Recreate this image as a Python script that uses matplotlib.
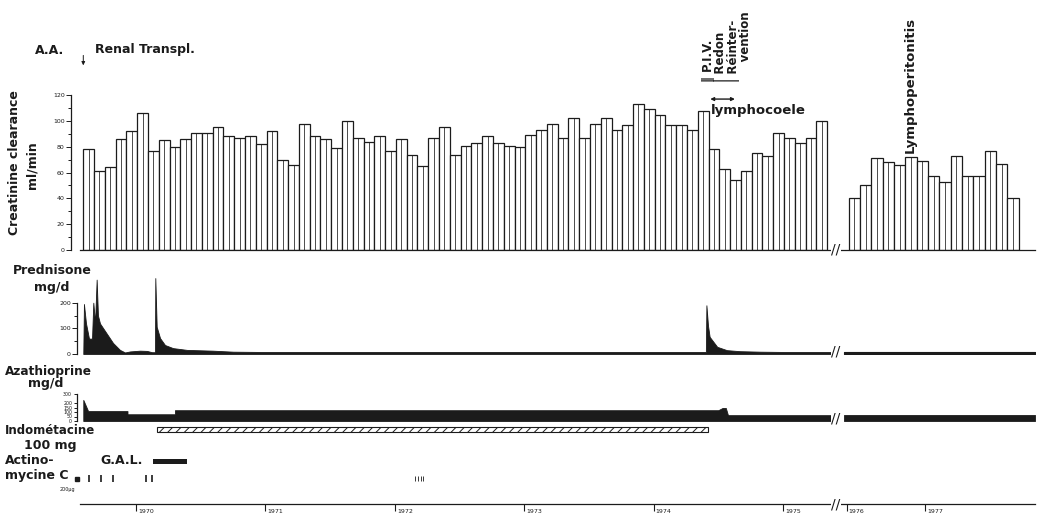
import numpy as np
import matplotlib.pyplot as plt
from matplotlib import transforms

plt.rcParams['font.family'] = ['DejaVu Sans']
plt.rcParams['hatch.linewidth'] = 0.7
INK = '#1b1b1b'

# x unit = one month, 0 = first bar (Aug 1969)
clearance_main = [78, 61, 64, 86, 92, 106, 77, 85, 80, 86, 91, 91, 95, 88, 87, 88, 82, 92, 70, 66,
                  98, 88, 86, 79, 100, 87, 84, 88, 77, 86, 74, 65, 87, 95, 74, 81, 83, 88, 83, 81,
                  80, 89, 93, 98, 87, 102, 87, 98, 102, 93, 97, 113, 109, 105, 97, 97, 93, 108, 78, 63,
                  54, 61, 75, 73, 91, 87, 83, 87, 100]
clearance_late = [40, 50, 71, 68, 66, 72, 69, 57, 53, 73, 57, 57, 77, 67, 40]
late_start = 71.0
late_step = 1.05

pred_x = [0.0, 0.06, 0.25, 0.53, 0.81, 0.93, 1.09, 1.24, 1.36, 1.55, 2.17, 2.76, 3.4, 3.87,
          4.33, 5.26, 5.91, 6.37, 6.65, 6.68, 6.81, 7.12, 7.58, 8.32, 9.62, 12.0, 13.9, 16.4,
          57.75, 57.8, 57.95, 58.1, 58.8, 59.7, 60.9, 62.8, 64.9, 69.5]
pred_v = [0, 195, 120, 60, 60, 200, 120, 290, 150, 119, 80, 43, 16, 6,
          10, 13, 12, 7, 7, 296, 106, 62, 35, 23, 16, 13, 9, 8,
          8, 190, 110, 67, 28, 15, 11, 9, 8, 8]
pred_late_x = [70.6, 88.3]
pred_late_v = [8, 8]

aza_x = [0.0, 0.0, 0.45, 4.1, 4.1, 8.5, 8.5, 58.9, 59.3, 59.6, 59.8, 69.5]
aza_v = [0, 235, 110, 110, 75, 75, 120, 120, 145, 145, 65, 65]
aza_late_x = [70.6, 88.3]
aza_late_v = [65, 65]

indometacine = (6.84, 57.95)
gal = (6.47, 9.62)
actino_c = [-0.58, 0.53, 1.64, 2.76, 5.81, 6.37]
actino_c_1972 = [30.8, 31.05, 31.3, 31.55]

year_ticks = [4.9, 16.9, 28.9, 40.9, 52.9, 64.9, 70.8, 78.1]
year_labels = ['1970', '1971', '1972', '1973', '1974', '1975', '1976', '1977']
break_x = 69.8
transpl_x = 0.0
lympho_span = (57.9, 60.7)

W, H = 1041, 518
XL, XR = -1.14, 88.28


def box(left, top, right, bottom):
    return [left / W, 1 - bottom / H, (right - left) / W, (bottom - top) / H]


def ftext(x, y, s, **kw):
    kw.setdefault('fontsize', 9)
    kw.setdefault('fontweight', 'bold')
    kw.setdefault('color', INK)
    fig.text(x / W, 1 - y / H, s, **kw)


fig = plt.figure(figsize=(W / 100, H / 100), dpi=100)
ax1 = fig.add_axes(box(71, 250 - 125 * 1.29, 1035, 250))
ax2 = fig.add_axes(box(71, 354 - 310 * 0.2565, 1035, 354))
ax3 = fig.add_axes(box(71, 421 - 330 * 0.09, 1035, 421))
ax4 = fig.add_axes(box(71, 424, 1035, 504))

for ax in (ax1, ax2, ax3, ax4):
    ax.set_xlim(XL, XR)
    ax.patch.set_visible(False)
    for s in ('top', 'right'):
        ax.spines[s].set_visible(False)
    for s in ('left', 'bottom'):
        ax.spines[s].set_linewidth(0.9)
        ax.spines[s].set_color(INK)
    ax.tick_params(which='both', direction='out', width=0.7, colors=INK, labelsize=4.5, pad=1)
    ax.tick_params(which='major', length=3.5)
    ax.tick_params(which='minor', length=2.5)

# creatinine clearance bars
ax1.set_ylim(0, 125)
x_main = np.arange(len(clearance_main))
ax1.bar(x_main, clearance_main, width=1, align='edge', fc='white', ec=INK, lw=0.9)
ax1.vlines(x_main + 0.5, 0, clearance_main, color=INK, lw=0.55)
x_late = late_start + late_step * np.arange(len(clearance_late))
ax1.bar(x_late, clearance_late, width=late_step, align='edge', fc='white', ec=INK, lw=0.9)
ax1.vlines(x_late + late_step / 2, 0, clearance_late, color=INK, lw=0.55)
ax1.spines['left'].set_bounds(0, 120)
ax1.spines['bottom'].set_bounds(-0.3, XR)
ax1.set_yticks(range(0, 121, 20))
ax1.set_yticks(range(10, 120, 20), minor=True)
ax1.set_xticks([])

# prednisone
ax2.set_ylim(0, 310)
ax2.fill_between(pred_x, 0, pred_v, color=INK, lw=0.6)
ax2.fill_between(pred_late_x, 0, pred_late_v, color=INK, lw=0.8)
ax2.spines['left'].set_position(('data', -0.58))
ax2.spines['left'].set_bounds(0, 200)
ax2.spines['bottom'].set_visible(False)
ax2.set_yticks([0, 100, 200])
ax2.set_yticks([50, 150], minor=True)
ax2.set_xticks([])

# azathioprine
ax3.set_ylim(0, 330)
ax3.fill_between(aza_x, 0, aza_v, color=INK, lw=0.6)
ax3.fill_between(aza_late_x, 0, aza_late_v, color=INK, lw=0.6)
ax3.spines['left'].set_position(('data', -0.58))
ax3.spines['left'].set_bounds(0, 300)
ax3.spines['bottom'].set_visible(False)
ax3.set_yticks([0, 50, 100, 150, 200, 300])
ax3.tick_params(labelsize=3.4, length=2.5)
ax3.set_xticks([])

# indometacine, G.A.L., actinomycine C and time axis
ax4.set_ylim(0, 80)
ax4.barh(74.5, indometacine[1] - indometacine[0], left=indometacine[0], height=5,
         fc='white', ec=INK, hatch='////', lw=0.8)
ax4.barh(42.5, gal[1] - gal[0], left=gal[0], height=5, color=INK)
ax4.vlines(actino_c[1:], 22, 29, color=INK, lw=1.2)
ax4.plot(actino_c[0], 25.5, 's', ms=2.6, color=INK)
ax4.vlines(actino_c_1972, 23, 28, color=INK, lw=0.6)
ax4.spines['left'].set_visible(False)
ax4.spines['bottom'].set_bounds(-0.3, XR)
ax4.set_yticks([])
ax4.set_xticks(year_ticks, year_labels, fontsize=4.5, ha='left')
ax4.tick_params(axis='x', length=5, width=0.8, pad=-1.5)
shift = transforms.ScaledTranslation(1.5 / 72, 0, fig.dpi_scale_trans)
for lab in ax4.get_xticklabels():
    lab.set_transform(lab.get_transform() + shift)

# axis breaks
for ax, yb in ((ax1, 0), (ax2, 8), (ax3, 30), (ax4, 0)):
    ax.text(break_x, yb, '//', fontsize=10, color=INK, ha='center', va='center',
            bbox=dict(fc='white', ec='none', pad=0.2), clip_on=False)

# annotations
ax1.annotate('', xy=(transpl_x, 141), xytext=(transpl_x, 153), annotation_clip=False,
             arrowprops=dict(arrowstyle='-|>', lw=0.7, color=INK, mutation_scale=5))
ax1.annotate('', xy=(lympho_span[1], 117), xytext=(lympho_span[0], 117), annotation_clip=False,
             arrowprops=dict(arrowstyle='<|-|>', lw=1.0, color=INK, mutation_scale=5))
ax1.text(lympho_span[0] + 0.3, 108.5, 'lymphocoele', fontsize=9.5, fontweight='bold',
         color=INK, ha='left', va='center')
ax1.text(59.7, 130.2, '\u2016 P.I.V.\n| Redon\n| R\u00e9inter-\n     vention', rotation=90,
         ha='center', va='bottom', multialignment='left', fontsize=8.5, fontweight='bold',
         color=INK, linespacing=0.95, clip_on=False)
ax1.text(76.7, 75.5, 'Lymphoperitonitis', rotation=90, ha='center', va='bottom',
         fontsize=9.5, fontweight='bold', color=INK, clip_on=False)

ftext(50, 50, 'A.A.', ha='center', va='center')
ftext(95, 50, 'Renal Transpl.', ha='left', va='center')
ftext(15, 163, 'Creatinine clearance', rotation=90, ha='center', va='center')
ftext(32, 165, 'ml/min', rotation=90, ha='center', va='center')
ftext(52, 270, 'Prednisone', ha='center', va='center')
ftext(52, 287, 'mg/d', ha='center', va='center')
ftext(5, 372, 'Azathioprine', ha='left', va='center', fontsize=8.7)
ftext(46, 384, 'mg/d', ha='center', va='center')
ftext(5, 431, 'Indom\u00e9tacine', ha='left', va='center', fontsize=8.5)
ftext(50, 445, '100 mg', ha='center', va='center')
ftext(5, 461, 'Actino-', ha='left', va='center')
ftext(5, 475, 'mycine C', ha='left', va='center')
ftext(67, 490, '200\u00b5g', ha='center', va='center', fontsize=3.5, fontweight='normal')
ftext(100, 461, 'G.A.L.', ha='left', va='center')

fig.savefig('out.png', dpi=100, facecolor='white')
